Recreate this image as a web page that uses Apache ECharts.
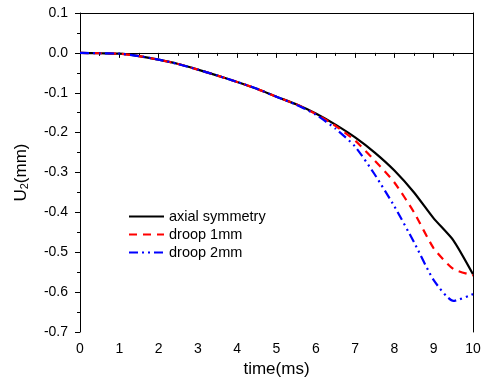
<!DOCTYPE html>
<html>
<head>
<meta charset="utf-8">
<script src="https://cdn.jsdelivr.net/npm/echarts@6/dist/echarts.min.js"></script>
<style>
html, body { margin: 0; padding: 0; background: #fff; }
#chart { width: 487px; height: 378px; }
</style>
</head>
<body>
<div id="chart"></div>
<script>
// time (ms)
var timeMs = [0, 0.5, 1, 1.5, 2, 2.5, 3, 3.5, 4, 4.5, 5, 5.5, 6, 6.5, 7, 7.5, 8, 8.5, 9, 9.5, 10];
// U2 (mm)
var axialSymmetry = [0, -0.001, -0.002, -0.008, -0.017, -0.028, -0.042, -0.057, -0.073, -0.09, -0.11, -0.129, -0.152, -0.18, -0.212, -0.25, -0.295, -0.35, -0.415, -0.47, -0.555];
var droop1 = [0, -0.001, -0.002, -0.008, -0.017, -0.028, -0.042, -0.057, -0.073, -0.09, -0.11, -0.129, -0.153, -0.183, -0.22, -0.27, -0.325, -0.4, -0.49, -0.542, -0.558];
var droop2 = [0, -0.001, -0.002, -0.008, -0.017, -0.028, -0.042, -0.057, -0.073, -0.09, -0.11, -0.13, -0.155, -0.19, -0.235, -0.305, -0.385, -0.475, -0.57, -0.622, -0.605];
var seriesNames = ['axial symmetry', 'droop 1mm', 'droop 2mm'];

function pairs(ys) {
    return ys.map(function (y, i) { return [timeMs[i], y]; });
}

var font = 'Liberation Sans, Arial, sans-serif';
var myChart = echarts.init(document.getElementById('chart'));

var option = {
    animation: false,
    grid: { left: 80, right: 14, top: 13, bottom: 46, show: false, outerBoundsMode: 'none', containLabel: false },
    legend: {
        orient: 'vertical',
        left: 123,
        top: 204,
        itemWidth: 35,
        itemHeight: 8,
        itemGap: 3,
        itemStyle: { opacity: 0 },
        textStyle: { fontFamily: font, fontSize: 14.5, color: '#000' },
        data: seriesNames
    },
    xAxis: [{
        type: 'value',
        min: 0, max: 10, interval: 1,
        name: 'time(ms)',
        nameLocation: 'middle',
        nameGap: 22,
        nameTextStyle: { fontFamily: font, fontSize: 17, color: '#000' },
        axisLine: { lineStyle: { color: '#000', width: 1 } },
        axisTick: { length: 5, lineStyle: { color: '#000' } },
        minorTick: { show: true, splitNumber: 2, length: 3, lineStyle: { color: '#000' } },
        axisLabel: { fontFamily: font, fontSize: 14, color: '#000', margin: 10 },
        splitLine: { show: false }
    }, {
        type: 'value', position: 'top', min: 0, max: 10,
        axisLine: { show: true, onZero: false, lineStyle: { color: '#000' } },
        axisTick: { show: false }, axisLabel: { show: false }, splitLine: { show: false }
    }],
    yAxis: [{
        type: 'value',
        min: -0.7, max: 0.1, interval: 0.1,
        name: 'U{sub|2}(mm)',
        nameLocation: 'middle',
        nameGap: 50,
        nameTextStyle: {
            fontFamily: font, fontSize: 17, color: '#000',
            rich: { sub: { fontFamily: font, fontSize: 11, color: '#000', verticalAlign: 'bottom', padding: [7, 0, 0, 0] } }
        },
        axisLine: { show: true, onZero: false, lineStyle: { color: '#000', width: 1 } },
        axisTick: { length: 5, lineStyle: { color: '#000' } },
        minorTick: { show: true, splitNumber: 2, length: 3, lineStyle: { color: '#000' } },
        axisLabel: {
            fontFamily: font, fontSize: 14, color: '#000', margin: 12,
            formatter: function (v) { return v.toFixed(1); }
        },
        splitLine: { show: false }
    }, {
        type: 'value', position: 'right', min: -0.7, max: 0.1,
        axisLine: { show: true, onZero: false, lineStyle: { color: '#000' } },
        axisTick: { show: false }, axisLabel: { show: false }, splitLine: { show: false }
    }],
    series: [{
        name: seriesNames[0],
        type: 'line',
        data: pairs(axialSymmetry),
        showSymbol: false, symbol: 'none',
        smooth: 0.2,
        lineStyle: { color: '#000', width: 2.2, type: 'solid' },
        itemStyle: { color: '#000' }
    }, {
        name: seriesNames[1],
        type: 'line',
        data: pairs(droop1),
        showSymbol: false, symbol: 'none',
        smooth: 0.2,
        lineStyle: { color: '#ff0000', width: 2.2, type: [8, 6] },
        itemStyle: { color: '#ff0000' }
    }, {
        name: seriesNames[2],
        type: 'line',
        data: pairs(droop2),
        showSymbol: false, symbol: 'none',
        smooth: 0.2,
        lineStyle: { color: '#0000ff', width: 2.2, type: [9, 4, 2, 4, 2, 4] },
        itemStyle: { color: '#0000ff' }
    }]
};

myChart.setOption(option);
</script>
</body>
</html>
